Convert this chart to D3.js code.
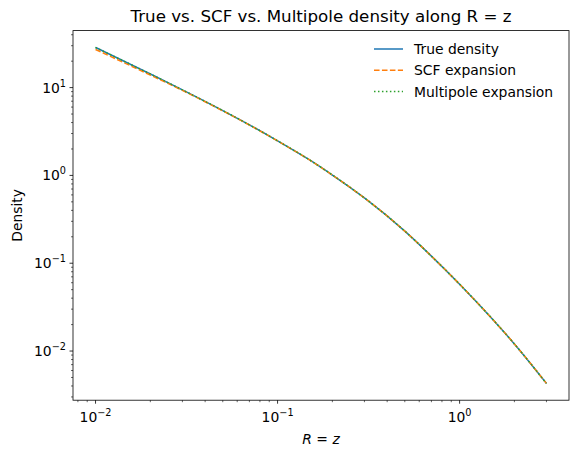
<!DOCTYPE html>
<html>
<head>
<meta charset="utf-8">
<script src="https://cdn.jsdelivr.net/npm/d3@7"></script>
<style>
  body { margin: 0; background: #fff; }
  text { font-family: "DejaVu Sans", sans-serif; fill: #000; }
</style>
</head>
<body>
<svg id="chart" width="578" height="456"></svg>
<script>
// values (R = z)
var radius = [0.01, 0.02, 0.03, 0.05, 0.07, 0.1, 0.15, 0.2, 0.3, 0.5, 0.7, 1, 1.5, 2, 3];
var trueDensity = [28.7, 14.3, 9.44, 5.48, 3.77, 2.48, 1.50, 1.01, 0.554, 0.232, 0.1205, 0.0577, 0.02365, 0.01205, 0.00428];
var scfDensity = [27.2, 13.9, 9.30, 5.44, 3.75, 2.47, 1.50, 1.01, 0.554, 0.232, 0.1205, 0.0577, 0.02365, 0.01205, 0.00428];
var multipoleDensity = [28.6, 14.3, 9.43, 5.48, 3.77, 2.48, 1.50, 1.01, 0.554, 0.232, 0.1205, 0.0577, 0.02365, 0.01205, 0.00428];
var seriesNames = ["True density", "SCF expansion", "Multipole expansion"];
var xTicks = [-2, -1, 0];
var yTicks = [-2, -1, 0, 1];

(function(){
    var svg = d3.select("#chart");
    var left = 73, right = 569, top = 30.6, bottom = 400.2;

    // matplotlib style 5% margins in log space
    function logDomain(vals) {
        var lo = Math.log10(d3.min(vals)), hi = Math.log10(d3.max(vals));
        var pad = (hi - lo) * 0.05;
        return [Math.pow(10, lo - pad), Math.pow(10, hi + pad)];
    }
    var allY = trueDensity.concat(scfDensity, multipoleDensity);
    var x = d3.scaleLog().domain(logDomain(radius)).range([left, right]);
    var y = d3.scaleLog().domain(logDomain(allY)).range([bottom, top]);

    var series = [
        {name: seriesNames[0], values: trueDensity, color: "#1f77b4", dash: null},
        {name: seriesNames[1], values: scfDensity, color: "#ff7f0e", dash: "5.55,2.4"},
        {name: seriesNames[2], values: multipoleDensity, color: "#2ca02c", dash: "1.5,2.475"}
    ];

    var line = d3.line()
        .x(function(d) { return x(d[0]); })
        .y(function(d) { return y(d[1]); })
        .curve(d3.curveMonotoneX);

    var plot = svg.append("g");
    plot.selectAll(".series")
        .data(series)
        .enter().append("path")
        .attr("class", "series")
        .attr("fill", "none")
        .attr("stroke", function(d) { return d.color; })
        .attr("stroke-width", 1.5)
        .attr("stroke-dasharray", function(d) { return d.dash; })
        .attr("d", function(d) {
            return line(radius.map(function(r, i) { return [r, d.values[i]]; }));
        });

    // minor ticks (2..9 in each decade) inside the domain
    function minors(scale) {
        var dom = scale.domain(), out = [];
        for (var e = Math.floor(Math.log10(dom[0])); e <= Math.ceil(Math.log10(dom[1])); e++) {
            for (var k = 2; k < 10; k++) {
                var v = k * Math.pow(10, e);
                if (v >= dom[0] && v <= dom[1]) out.push(v);
            }
        }
        return out;
    }

    var axes = svg.append("g");
    // x ticks
    axes.selectAll(".xminor").data(minors(x)).enter().append("line")
        .attr("x1", function(d) { return x(d); }).attr("x2", function(d) { return x(d); })
        .attr("y1", bottom).attr("y2", bottom + 2)
        .attr("stroke", "#000").attr("stroke-width", 0.6);
    axes.selectAll(".xmajor").data(xTicks).enter().append("line")
        .attr("x1", function(d) { return x(Math.pow(10, d)); }).attr("x2", function(d) { return x(Math.pow(10, d)); })
        .attr("y1", bottom).attr("y2", bottom + 3.5)
        .attr("stroke", "#000").attr("stroke-width", 0.8);
    // y ticks
    axes.selectAll(".yminor").data(minors(y)).enter().append("line")
        .attr("y1", function(d) { return y(d); }).attr("y2", function(d) { return y(d); })
        .attr("x1", left).attr("x2", left - 2)
        .attr("stroke", "#000").attr("stroke-width", 0.6);
    axes.selectAll(".ymajor").data(yTicks).enter().append("line")
        .attr("y1", function(d) { return y(Math.pow(10, d)); }).attr("y2", function(d) { return y(Math.pow(10, d)); })
        .attr("x1", left).attr("x2", left - 3.5)
        .attr("stroke", "#000").attr("stroke-width", 0.8);

    function powLabel(sel, e) {
        sel.append("tspan").text("10");
        sel.append("tspan").attr("dy", -6).style("font-size", "9.7px")
            .text(e < 0 ? "\u2212" + (-e) : String(e));
    }

    axes.selectAll(".xlabel").data(xTicks).enter().append("text")
        .attr("x", function(d) { return x(Math.pow(10, d)); })
        .attr("y", 422)
        .attr("text-anchor", "middle")
        .style("font-size", "13.9px")
        .each(function(d) { powLabel(d3.select(this), d); });

    axes.selectAll(".ylabel").data(yTicks).enter().append("text")
        .attr("x", left - 7)
        .attr("y", function(d) { return y(Math.pow(10, d)) + 5; })
        .attr("text-anchor", "end")
        .style("font-size", "13.9px")
        .each(function(d) { powLabel(d3.select(this), d); });

    // frame
    svg.append("rect")
        .attr("x", left).attr("y", top)
        .attr("width", right - left).attr("height", bottom - top)
        .attr("fill", "none").attr("stroke", "#000").attr("stroke-width", 0.8);

    // title and axis labels
    svg.append("text")
        .attr("x", (left + right) / 2).attr("y", 22)
        .attr("text-anchor", "middle")
        .style("font-size", "16.7px")
        .text("True vs. SCF vs. Multipole density along R = z");

    var xl = svg.append("text")
        .attr("x", (left + right) / 2).attr("y", 444)
        .attr("text-anchor", "middle")
        .style("font-size", "13.9px");
    xl.append("tspan").style("font-style", "italic").text("R");
    xl.append("tspan").text(" = ");
    xl.append("tspan").style("font-style", "italic").text("z");

    svg.append("text")
        .attr("transform", "translate(22," + ((top + bottom) / 2) + ") rotate(-90)")
        .attr("text-anchor", "middle")
        .style("font-size", "13.9px")
        .text("Density");

    // legend, no frame
    var legend = svg.append("g").attr("transform", "translate(374,49)");
    var item = legend.selectAll(".item").data(series).enter().append("g")
        .attr("transform", function(d, i) { return "translate(0," + (i * 21.3) + ")"; });
    item.append("line")
        .attr("x1", 0).attr("x2", 29)
        .attr("stroke", function(d) { return d.color; })
        .attr("stroke-width", 1.5)
        .attr("stroke-dasharray", function(d) { return d.dash; });
    item.append("text")
        .attr("x", 40).attr("y", 5)
        .style("font-size", "13.9px")
        .text(function(d) { return d.name; });
})();
</script>
</body>
</html>
